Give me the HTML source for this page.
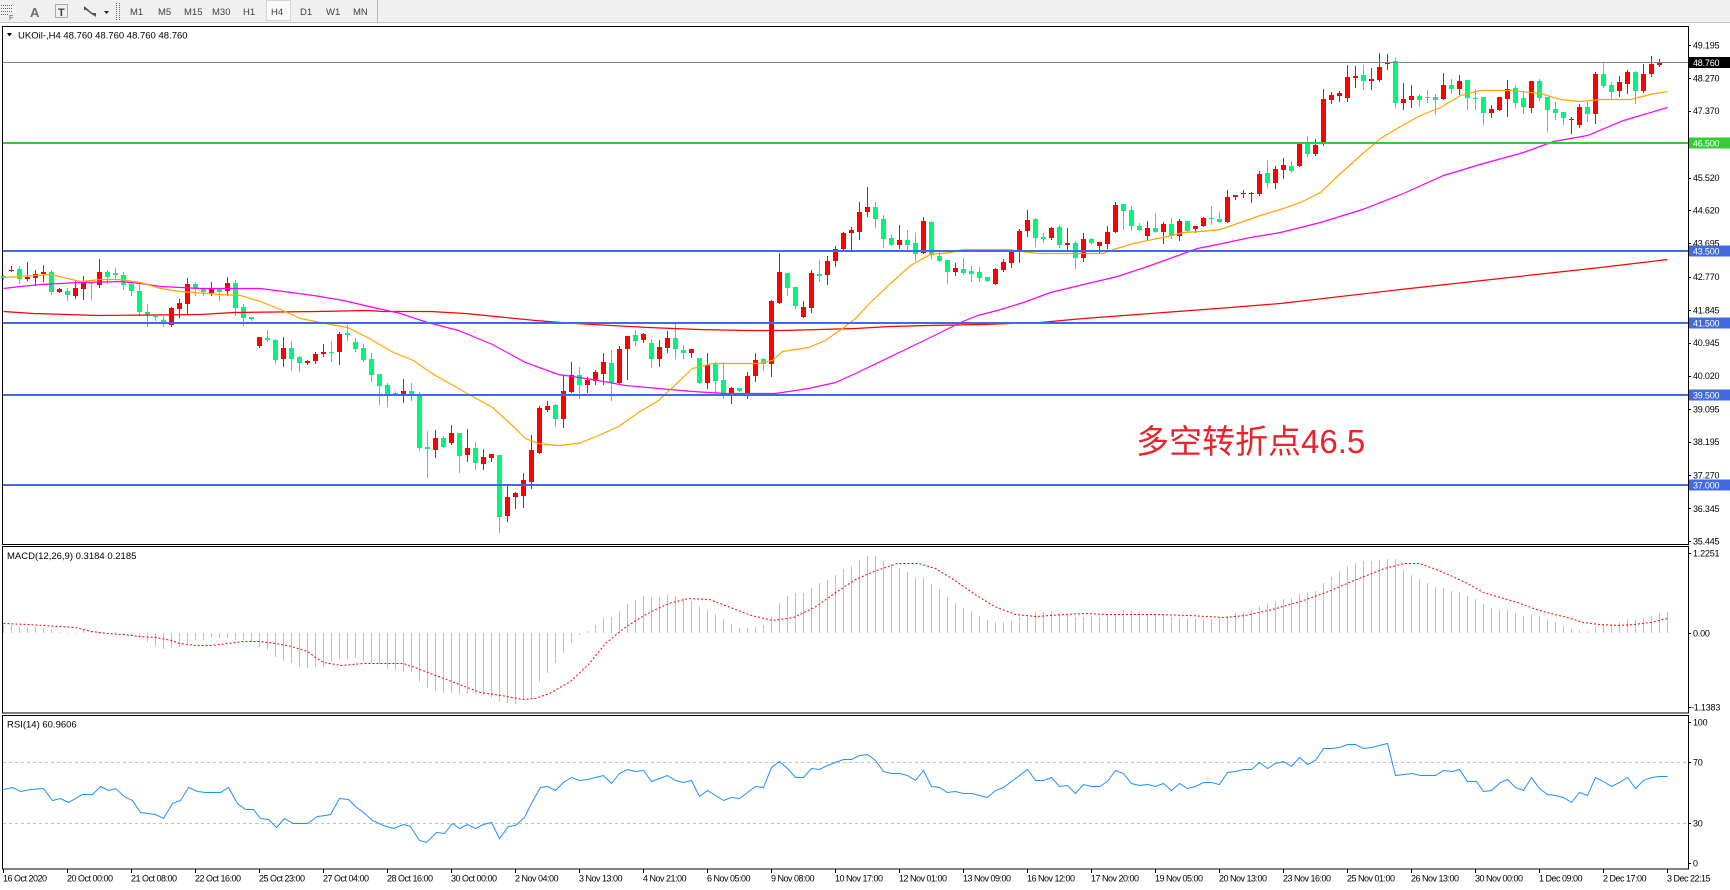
<!DOCTYPE html>
<html><head><meta charset="utf-8">
<style>
html,body{margin:0;padding:0;background:#fff;width:1730px;height:890px;overflow:hidden}
svg{display:block}
text{font-family:"Liberation Sans",Arial,sans-serif}
</style></head><body>
<svg id="s" width="1730" height="890" xmlns="http://www.w3.org/2000/svg">
<!-- toolbar -->
<rect x="0" y="0" width="1730" height="22" fill="#f0f0f0"/>
<line x1="0" y1="22.5" x2="1730" y2="22.5" stroke="#c4c4c4"/>
<g fill="none" stroke="#666" stroke-dasharray="1 1" shape-rendering="crispEdges">
<line x1="1" y1="5.5" x2="12" y2="5.5"/><line x1="1" y1="8.5" x2="12" y2="8.5"/><line x1="1" y1="11.5" x2="12" y2="11.5"/><line x1="1" y1="14.5" x2="8" y2="14.5"/>
<rect x="55.5" y="4.5" width="12" height="13"/>
<line x1="116.5" y1="3" x2="116.5" y2="20"/><line x1="119.5" y1="3" x2="119.5" y2="20"/>
</g>
<text x="9" y="20" font-size="7" fill="#555">F</text>
<text x="30" y="17" font-size="13" fill="#707070" font-weight="bold">A</text>
<text x="58" y="16" font-size="11" fill="#444" font-weight="bold">T</text>
<polygon points="84,6 89,10 84,10" fill="#555"/><polygon points="91,13 96,13 96,17" fill="#555"/><line x1="86" y1="9" x2="94" y2="15" stroke="#555" stroke-width="1.5"/>
<polygon points="104,11 109,11 106.5,14" fill="#222"/>
<rect x="266.5" y="0.5" width="24" height="20" fill="#fafafa" stroke="#d6d6d6"/>
<g font-size="9.5" fill="#404040">
<text x="130" y="15">M1</text><text x="158" y="15">M5</text><text x="184" y="15">M15</text><text x="212" y="15">M30</text><text x="243" y="15">H1</text><text x="271" y="15">H4</text><text x="300" y="15">D1</text><text x="326" y="15">W1</text><text x="353" y="15">MN</text>
</g>
<line x1="377.5" y1="0" x2="377.5" y2="22" stroke="#b8b8b8"/>

<!-- panels -->
<g fill="none" stroke="#000" shape-rendering="crispEdges">
<rect x="2.5" y="26.5" width="1686" height="518"/>
<rect x="2.5" y="546.5" width="1686" height="166.5"/>
<rect x="2.5" y="715.5" width="1686" height="153.5"/>
</g>
<!-- RSI levels -->
<g stroke="#c0c0c0" stroke-dasharray="3 3" shape-rendering="crispEdges">
<line x1="3" y1="762.5" x2="1688" y2="762.5"/><line x1="3" y1="823.5" x2="1688" y2="823.5"/>
</g>
<g id="dyn"></g>
<!-- titles -->
<polygon points="7,33 12,33 9.5,36.5" fill="#000"/>
<text x="18" y="38.5" font-size="9.5" fill="#000">UKOil-,H4  48.760 48.760 48.760 48.760</text>
<text x="7" y="559" font-size="9.5" fill="#000">MACD(12,26,9) 0.3184 0.2185</text>
<text x="7" y="727.5" font-size="9.5" fill="#000">RSI(14) 60.9606</text>
<text x="1136" y="453" font-size="33" fill="#e8232b" font-family="'Liberation Sans','Noto Sans CJK SC',sans-serif">多空转折点46.5</text>
<g id="axis"></g>
</svg>
<script>
const NS="http://www.w3.org/2000/svg";
const dyn=document.getElementById('dyn');
const axis=document.getElementById('axis');
function el(tag,a,p){const e=document.createElementNS(NS,tag);for(const k in a)e.setAttribute(k,a[k]);(p||dyn).appendChild(e);return e;}
function txt(x,y,s,a,p){const e=el('text',Object.assign({x:x,y:y},a),p);e.textContent=s;return e;}

const C=[[275,276,278,279,0],[266,270,271,271,1],[266,269,279,283,0],[262,277,279,280,1],[270,274,278,285,1],[265,272,274,281,1],[270,272,292,294,0],[288,289,292,292,1],[288,291,295,300,0],[281,288,296,298,1],
[276,283,289,299,1],[283,283,284,299,0],[259,272,285,287,1],[270,272,277,283,0],[268,273,275,278,0],[272,275,285,289,0],[282,284,291,295,0],[282,291,312,315,0],[304,312,315,326,0],[315,316,317,320,0],
[316,320,322,326,0],[307,308,325,326,1],[299,303,309,317,1],[278,284,304,313,1],[282,284,289,295,0],[289,289,292,295,0],[282,289,293,295,1],[289,289,292,300,0],[277,283,291,295,1],[280,283,308,315,0],
[304,307,318,325,0],[317,317,319,320,0],[337,337,346,347,1],[330,338,340,341,0],[339,340,360,363,0],[337,348,359,366,1],[341,348,359,370,0],[356,357,363,371,0],[360,361,363,364,1],[352,354,361,363,1],
[344,352,354,356,1],[341,352,353,361,0],[332,334,352,364,1],[325,333,335,340,0],[338,342,349,351,0],[344,348,360,361,0],[353,359,375,381,0],[374,374,386,404,0],[383,385,394,406,0],[391,393,394,395,0],
[379,391,396,402,1],[383,391,396,400,0],[392,396,448,450,0],[431,447,449,477,0],[430,438,450,457,1],[436,438,447,447,0],[425,433,443,444,1],[433,433,456,472,0],[429,448,455,461,1],[442,448,463,469,0],
[449,457,464,469,1],[454,454,458,461,1],[455,455,517,532,0],[485,497,516,521,1],[492,493,497,508,1],[473,480,496,507,1],[435,450,482,488,1],[406,408,453,453,1],[401,406,410,411,1],[404,405,419,426,0],
[375,391,419,427,1],[362,375,392,392,1],[367,375,385,398,0],[377,380,385,392,1],[370,372,381,384,1],[353,362,374,384,1],[350,363,383,400,0],[346,349,383,383,1],[336,336,349,379,1],[330,335,341,345,0],
[333,334,340,342,1],[339,343,359,367,0],[340,347,359,366,1],[331,338,348,352,1],[324,338,349,358,0],[345,350,353,358,0],[349,349,353,357,1],[358,358,383,383,0],[353,365,383,388,1],[362,364,381,393,0],
[362,380,394,398,0],[387,388,394,403,1],[388,388,391,391,0],[372,376,394,398,1],[353,360,376,381,1],[358,359,364,370,0],[300,301,364,376,1],[253,272,303,303,1],[273,273,288,295,0],[287,287,306,308,0],
[301,307,317,317,1],[270,273,308,312,1],[260,274,276,281,0],[256,261,275,284,1],[246,249,261,266,1],[232,233,249,250,1],[227,230,233,249,1],[202,212,232,239,1],[187,207,212,216,1],[202,207,219,227,0],
[215,219,239,247,0],[235,238,245,245,0],[225,240,245,248,1],[230,240,245,249,0],[233,243,254,260,0],[217,221,253,253,1],[221,222,255,258,0],[252,256,261,261,0],[260,260,272,283,0],[263,268,272,275,1],
[258,269,273,274,0],[266,271,274,281,0],[267,272,278,281,0],[277,277,281,281,0],[268,269,284,284,1],[259,262,270,271,1],[249,252,263,267,1],[229,231,250,262,1],[210,220,231,236,1],[218,219,238,246,0],
[233,237,239,242,0],[227,228,238,239,1],[225,227,245,247,0],[228,243,245,249,1],[241,243,258,268,0],[233,239,258,261,1],[238,239,243,244,0],[242,242,246,253,1],[226,232,244,248,1],[202,205,232,232,1],
[204,204,211,229,0],[206,210,226,230,0],[223,226,230,230,0],[221,228,236,239,1],[213,228,232,232,0],[222,224,232,243,1],[218,224,236,238,0],[219,221,236,240,1],[221,221,231,231,0],[226,226,229,232,1],
[217,218,226,226,1],[206,218,219,224,0],[212,219,222,222,0],[190,197,222,222,1],[195,195,197,199,1],[190,193,194,197,1],[192,193,194,202,1],[171,174,194,195,1],[160,173,183,187,0],[166,169,183,188,1],
[158,165,170,178,1],[161,166,171,172,0],[144,144,166,166,1],[136,144,154,156,0],[139,145,154,155,1],[89,99,142,145,1],[92,95,100,103,1],[91,93,96,101,1],[65,77,98,101,1],[66,76,78,87,1],
[65,75,81,89,0],[68,79,81,89,1],[53,67,80,81,1],[54,62,64,69,1],[58,61,103,107,0],[83,99,103,109,1],[85,96,100,107,1],[94,96,100,106,0],[90,97,98,102,0],[94,97,100,114,0],
[73,85,99,99,1],[79,85,89,93,0],[75,81,89,94,1],[80,80,98,109,0],[89,98,98,109,0],[97,97,113,124,0],[105,109,113,117,1],[97,97,110,110,1],[80,89,99,116,1],[85,88,103,107,0],
[91,98,107,113,0],[81,81,108,112,1],[79,81,98,100,0],[97,97,110,131,0],[102,109,113,119,0],[112,112,118,124,0],[117,119,120,133,1],[104,107,125,127,1],[102,107,114,121,0],[72,74,114,123,1],
[63,74,86,87,0],[82,85,92,99,0],[76,82,91,96,1],[70,72,84,93,1],[71,72,91,103,0],[64,74,91,92,1],[56,64,74,76,1],[59,62,65,66,1],[62,62,62,62,0]];

const H=[625,625,627,627,627,628,629,632,633,633,630,632,633,633,632,634,635,637,642,646,649,648,647,643,640,640,637,638,638,640,640,642,647,650,657,661,663,667,668,667,667,661,659,659,658,661,663,664,669,670,672,672,682,688,691,693,693,694,694,694,695,698,702,703,704,700,698,682,673,663,653,643,635,631,625,618,617,611,604,600,596,597,597,595,596,598,601,606,610,614,619,624,628,628,627,625,617,603,596,593,593,588,583,580,575,569,566,560,556,556,561,564,568,572,578,578,584,589,597,603,608,611,616,620,622,622,621,617,616,611,612,611,613,615,617,617,616,617,614,614,610,611,612,614,613,614,617,618,618,619,619,619,618,616,613,612,610,606,603,601,599,598,594,593,591,583,577,571,566,563,561,561,560,559,559,570,575,579,583,587,588,591,592,596,599,604,608,610,610,613,616,614,616,619,622,626,629,630,631,627,625,625,622,619,620,618,616,613,612];

const ORANGE="3,277 50,274 80,281 100,279 120,279 140,282 160,288 180,291 220,294 240,295 260,301 280,309 300,318 320,322 347,327 367,337 393,352 413,360 430,372 465,392 492,407 515,428 525,438 538,443 558,445 578,443 598,435 618,426 638,412 658,400 672,387 692,368 712,363 758,363 772,360 782,351 808,347 825,340 842,328 855,318 870,302 890,283 910,265 930,254 950,252 963,249 1007,249 1037,253 1103,253 1113,249 1133,243 1167,236 1183,232 1200,231 1220,229 1237,223 1260,215 1280,209 1300,202 1320,192 1340,173 1360,155 1380,138 1400,126 1420,115 1440,107 1460,95 1480,90 1510,90 1540,93 1560,99 1580,101 1600,99 1630,99 1650,94 1667,91";
const MAG="3,288 20,286 40,284 80,282 120,281 140,283 160,286 200,288 260,288 283,291 313,295 343,300 373,307 400,313 427,322 458,330 492,344 525,362 558,374 592,379 625,385 658,388 692,391 725,393 775,393 808,388 835,382 855,373 905,349 930,337 960,322 977,315 997,310 1023,302 1050,292 1083,284 1117,276 1150,265 1183,253 1197,248 1217,244 1250,237 1280,232 1320,222 1362,209 1403,193 1443,175 1483,163 1523,152 1553,141 1587,135 1623,120 1667,107";
const REDMA="3,311 33,313 67,314 97,315 200,314 233,312 317,311 367,310 383,311 430,311 465,313 505,317 535,320 560,322 592,324 648,327 698,329 745,330 782,330 855,328 890,326 927,325 983,324 1040,322 1083,318 1150,313 1217,308 1280,303 1400,289 1500,278 1600,267 1667,259";
const SIG="3,623 27,624 43,625 59,626 75,627 91,631 107,633 123,634 139,636 155,637 171,640 179,643 195,645 211,645 227,643 243,641 259,641 275,643 291,646 307,651 315,657 323,662 341,665 362,663 403,663 417,668 438,676 459,684 480,692 501,695 522,699 535,698 549,693 570,681 588,664 605,643 626,626 647,613 668,603 688,598 709,599 730,607 751,615 772,620 793,617 814,607 834,593 855,579 876,570 897,563 918,563 935,568 953,579 973,593 994,606 1015,614 1036,616 1064,614 1085,613 1106,614 1154,614 1189,615 1224,617 1245,615 1272,609 1300,601 1328,591 1356,579 1384,568 1404,563 1419,563 1433,568 1450,575 1467,583 1483,592 1500,597 1517,602 1533,608 1550,613 1567,617 1583,622 1600,624 1617,625 1633,624 1650,622 1667,618";
const RSI="3,789 12,787 20,791 30,789 43,788 52,800 60,798 68,802 82,794 92,794 100,786 108,790 115,788 125,797 132,800 140,812 155,814 163,818 172,803 180,800 188,787 197,791 205,792 220,792 228,787 237,803 245,809 253,809 260,818 268,819 276,827 284,818 293,823 307,823 317,816 325,815 330,814 339,798 348,799 355,806 363,812 372,820 383,825 393,828 403,824 410,826 419,840 426,842 436,832 444,833 452,823 459,828 467,824 475,828 483,824 491,822 499,838 508,826 515,825 524,817 532,801 540,787 547,786 555,790 563,782 571,777 579,780 587,779 595,777 603,775 611,783 619,773 627,769 635,771 643,770 651,781 659,778 667,775 675,780 683,782 691,780 699,796 707,790 715,795 723,800 731,797 739,798 747,792 755,786 763,787 771,767 779,761 787,768 795,777 803,777 811,768 819,769 827,765 835,762 843,759 851,759 859,755 867,754 875,760 883,771 891,773 899,773 907,775 915,780 923,770 931,786 939,787 947,792 955,791 963,793 971,793 979,795 987,797 995,790 1003,787 1011,781 1019,775 1027,769 1035,780 1043,780 1051,777 1059,786 1067,785 1075,793 1083,784 1091,786 1099,786 1107,781 1115,770 1123,773 1131,783 1139,785 1147,784 1155,786 1163,783 1171,790 1179,783 1187,788 1195,786 1203,782 1211,782 1219,784 1227,772 1235,771 1243,769 1251,769 1259,762 1267,768 1275,763 1283,761 1291,766 1299,757 1307,764 1315,760 1323,748 1331,748 1339,747 1347,744 1355,744 1363,748 1371,747 1379,745 1387,743 1395,775 1403,774 1412,773 1420,775 1435,775 1443,770 1452,771 1459,769 1467,781 1476,781 1483,791 1491,790 1500,782 1507,779 1515,787 1523,790 1531,777 1539,788 1547,794 1555,795 1563,797 1571,802 1579,792 1587,795 1595,777 1603,781 1611,786 1619,782 1627,777 1635,788 1643,780 1651,777 1659,776 1667,776";

function shift(s){return s.split(' ').map(p=>{const a=p.split(',');return (+a[0]+0.5)+','+(+a[1]+0.5);}).join(' ');}

// MACD histogram
H.forEach((y,i)=>{const x=3+8*i;const t=Math.min(y,633),h=Math.max(1,Math.abs(633-y));el('rect',{x:x,y:t,width:1,height:h,fill:'#c0c0c0'});});
el('polyline',{points:shift(SIG),fill:'none',stroke:'#ff0000','stroke-width':1,'stroke-dasharray':'2 2'});
// RSI
el('polyline',{points:shift(RSI),fill:'none',stroke:'#1e90ff','stroke-width':1});
// candles
C.forEach((c,i)=>{const x=3+8*i;const col=c[4]?'#ff0000':'#00f57a';
 el('rect',{x:x,y:c[0],width:1,height:Math.max(1,c[3]-c[0]+1),fill:col});
 el('rect',{x:x-2,y:c[1],width:5,height:Math.max(1,c[2]-c[1]),fill:col});});
// MAs
el('polyline',{points:shift(REDMA),fill:'none',stroke:'#ff0000','stroke-width':1.2});
el('polyline',{points:shift(MAG),fill:'none',stroke:'#ff00ff','stroke-width':1.2});
el('polyline',{points:shift(ORANGE),fill:'none',stroke:'#ffa500','stroke-width':1.2});
// horizontal lines
el('rect',{x:3,y:62,width:1685,height:1,fill:'#778899'});
el('rect',{x:3,y:142,width:1685,height:2,fill:'#32cd32'});
[250,322,394,484].forEach(y=>el('rect',{x:3,y:y,width:1685,height:2,fill:'#4169e1'}));

// right axis labels
const lab={'font-size':9,fill:'#000','letter-spacing':'-0.2'};
[49.195,48.270,47.370,46.445,45.520,44.620,43.695,42.770,41.845,40.945,40.020,39.095,38.195,37.270,36.345,35.445].forEach(p=>{
 const y=45+(49.195-p)*36.07;
 el('rect',{x:1688,y:Math.round(y),width:3,height:1,fill:'#000'},axis);
 txt(1693,y+3.3,p.toFixed(3),lab,axis);});
function box(y,s,bg){el('rect',{x:1689,y:y-5.5,width:41,height:11,fill:bg},axis);txt(1693,y+3.3,s,{'font-size':9,fill:'#fff','letter-spacing':'-0.2'},axis);}
box(62.5,'48.760','#000');box(143,'46.500','#32cd32');box(251,'43.500','#4169e1');box(323,'41.500','#4169e1');box(395,'39.500','#4169e1');box(485,'37.000','#4169e1');
[[553,'1.2251'],[633,'0.00'],[707,'-1.1383']].forEach(a=>{el('rect',{x:1688,y:a[0],width:3,height:1,fill:'#000'},axis);txt(a[1][0]=='-'?1691:1693,a[0]+3.3,a[1],lab,axis);});
[[722,'100'],[762,'70'],[823,'30'],[863,'0']].forEach(a=>{el('rect',{x:1688,y:a[0],width:3,height:1,fill:'#000'},axis);txt(1693,a[0]+3.3,a[1],lab,axis);});
// time axis
const T=["16 Oct 2020","20 Oct 00:00","21 Oct 08:00","22 Oct 16:00","25 Oct 23:00","27 Oct 04:00","28 Oct 16:00","30 Oct 00:00","2 Nov 04:00","3 Nov 13:00","4 Nov 21:00","6 Nov 05:00","9 Nov 08:00","10 Nov 17:00","12 Nov 01:00","13 Nov 09:00","16 Nov 12:00","17 Nov 20:00","19 Nov 05:00","20 Nov 13:00","23 Nov 16:00","25 Nov 01:00","26 Nov 13:00","30 Nov 00:00","1 Dec 09:00","2 Dec 17:00","3 Dec 22:15"];
T.forEach((s,k)=>{const x=3+64*k;el('rect',{x:x,y:869,width:1,height:4,fill:'#000'},axis);txt(x,881.5,s,{'font-size':9,fill:'#000','letter-spacing':'-0.5'},axis);});
</script>
</body></html>
